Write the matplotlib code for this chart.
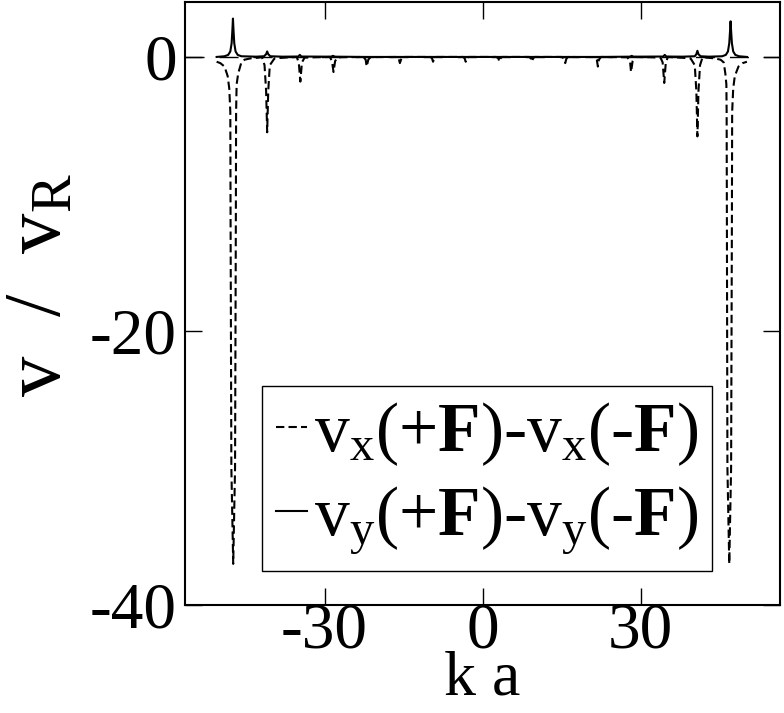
import matplotlib
matplotlib.use("Agg")
import matplotlib.pyplot as plt

plt.rcParams['font.family'] = ['Liberation Serif', 'DejaVu Serif']
plt.rcParams['mathtext.fontset'] = 'custom'
plt.rcParams['mathtext.rm'] = 'Liberation Serif'
plt.rcParams['mathtext.bf'] = 'Liberation Serif:bold'
plt.rcParams['mathtext.it'] = 'Liberation Serif:italic'
plt.rcParams['axes.unicode_minus'] = False

#------- data -------#
# v_x(+F) - v_x(-F), dashed curve
k_vx = [-50.5, -49.8, -49.0, -48.4, -48.1, -47.9, -47.85, -47.7, -47.35, -47.0, -46.85, -46.8, -46.7, -46.4, -45.8, -45.2, -44.0, -42.5,
        -41.9, -41.4, -41.1, -40.9, -40.7, -40.4, -39.5,
        -35.3, -34.9, -34.6, -34.3, -33.8,
        -29.0, -28.6, -28.3, -28.0, -27.5,
        -22.6, -22.2, -22.0, -21.7, -21.3,
        -16.2, -15.9, -15.7, -15.4, -15.0,
        -9.9, -9.6, -9.4, -9.2, -8.8,
        -3.7, -3.4, -3.2, -3.0, -2.6,
        2.6, 3.0, 3.2, 3.4, 3.7,
        8.8, 9.2, 9.4, 9.6, 9.9,
        15.0, 15.4, 15.7, 15.9, 16.2,
        21.3, 21.7, 21.9, 22.1, 22.5,
        27.5, 28.0, 28.2, 28.5, 28.9,
        33.8, 34.2, 34.5, 34.8, 35.2,
        39.5, 40.3, 40.6, 40.8, 41.0, 41.3, 41.8,
        42.5, 44.0, 45.2, 45.8, 46.1, 46.3, 46.35, 46.4, 46.5, 46.85, 47.2, 47.35, 47.4, 47.6, 47.9, 48.6, 49.4, 50.2]
dvx = [-0.35, -0.45, -0.7, -1.4, -2.3, -4.0, -12, -30, -37, -30, -12, -4.0, -2.0, -1.2, -0.4, -0.2, -0.1, -0.05,
       0.0, -0.6, -2.5, -5.5, -2.5, -0.6, -0.1,
       0.0, -0.4, -1.8, -0.4, -0.05,
       0.0, -0.3, -1.1, -0.3, -0.03,
       0.0, -0.2, -0.7, -0.2, -0.02,
       0.0, -0.15, -0.45, -0.1, 0.0,
       0.0, -0.1, -0.35, -0.1, 0.0,
       0.0, -0.1, -0.35, -0.1, 0.0,
       0.0, -0.1, -0.35, -0.1, 0.0,
       0.0, -0.1, -0.35, -0.1, 0.0,
       0.0, -0.1, -0.45, -0.15, 0.0,
       -0.02, -0.2, -0.7, -0.2, 0.0,
       -0.03, -0.3, -1.1, -0.3, 0.0,
       -0.05, -0.4, -1.9, -0.4, 0.0,
       -0.1, -0.6, -2.5, -5.8, -2.5, -0.6, 0.0,
       -0.05, -0.1, -0.2, -0.4, -1.2, -2.0, -4.0, -12, -30, -37, -30, -12, -4.0, -2.3, -1.4, -0.7, -0.45, -0.35]

# v_y(+F) - v_y(-F), solid curve
k_vy = [-50.5, -49.0, -48.3, -47.9, -47.65, -47.5, -47.4, -47.3, -47.15, -46.9, -46.5, -45.8, -43.0,
        -41.5, -41.1, -40.9, -40.7, -40.3, -38.0,
        -35.0, -34.7, -34.4, -28.8, -28.4, -28.0, -22.1,
        22.1, 28.0, 28.3, 28.7, 34.3, 34.6, 34.9,
        38.0, 40.3, 40.6, 40.8, 41.0, 41.4,
        43.0, 45.5, 46.2, 46.6, 46.85, 47.0, 47.1, 47.2, 47.35, 47.6, 48.0, 48.7, 50.2]
dvy = [0.0, 0.05, 0.15, 0.4, 1.0, 2.0, 2.8, 2.0, 1.0, 0.4, 0.15, 0.05, 0.02,
       0.05, 0.2, 0.4, 0.2, 0.05, 0.02,
       0.03, 0.15, 0.03, 0.02, 0.08, 0.02, 0.0,
       0.0, 0.02, 0.08, 0.02, 0.03, 0.15, 0.03,
       0.02, 0.05, 0.2, 0.45, 0.2, 0.05,
       0.02, 0.05, 0.15, 0.4, 1.0, 1.9, 2.6, 1.9, 1.0, 0.4, 0.15, 0.05, 0.0]

xticks = [-30, 0, 30]
yticks = [-40, -20, 0]

#------- figure -------#
fig = plt.figure(figsize=(7.84, 7.13), dpi=100)
ax = fig.add_axes([0.236, 0.1515, 0.759, 0.8455])

ax.axhline(0, color='k', lw=1.0, dashes=(13.7, 10.8), zorder=1)
ax.plot(k_vx, dvx, color='k', lw=1.5, dashes=(4, 2), label=r'v$_\mathregular{x}$(+$\mathbf{F}$)-v$_\mathregular{x}$(-$\mathbf{F}$)', zorder=2)
ax.plot(k_vy, dvy, color='k', lw=1.5, label=r'v$_\mathregular{y}$(+$\mathbf{F}$)-v$_\mathregular{y}$(-$\mathbf{F}$)', zorder=3)

ax.set_xlim(-56.5, 56.5)
ax.set_ylim(-40, 4)
ax.set_xticks(xticks)
ax.set_yticks(yticks)
ax.tick_params(axis='both', direction='in', length=12, width=1, labelsize=47, top=True, right=True)
ax.tick_params(axis='x', pad=-2)
ax.tick_params(axis='y', pad=6)
for s in ax.spines.values():
    s.set_linewidth(1.5)

ax.set_xlabel('k a', fontsize=46, labelpad=-8)
ax.set_ylabel(r'v  /  v$_\mathregular{R}$', fontsize=58)
ax.yaxis.set_label_coords(-0.18, 0.53)

leg = ax.legend(loc='lower left', bbox_to_anchor=(0.129, 0.056), borderaxespad=0,
                fontsize=50, handlelength=0.45, handletextpad=0.1, borderpad=0.2,
                labelspacing=0.25, fancybox=False, framealpha=1, edgecolor='k')
leg.get_frame().set_linewidth(1.0)

plt.savefig("out.png", dpi=100)
plt.close()
